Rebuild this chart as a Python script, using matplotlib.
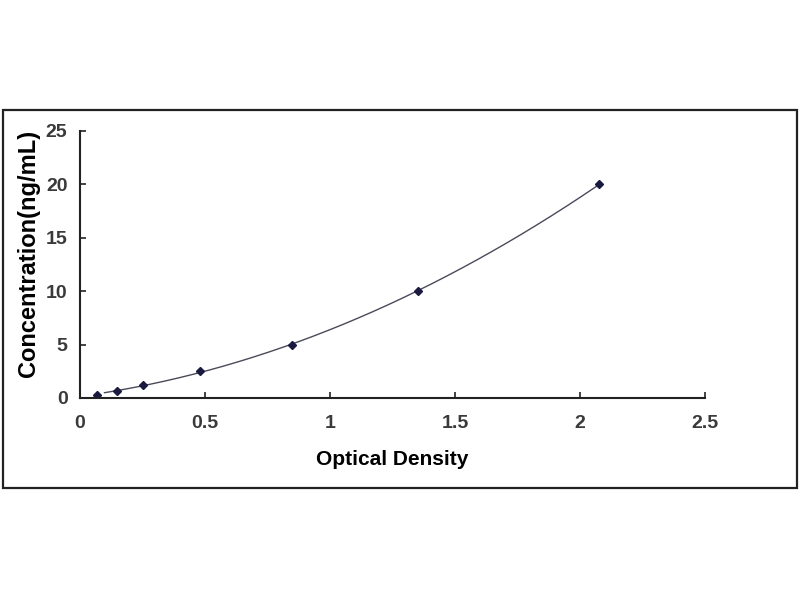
import numpy as np
import matplotlib
matplotlib.use("Agg")
import matplotlib.pyplot as plt
from matplotlib.patches import Rectangle

# standard curve points
od = [0.068, 0.148, 0.252, 0.48, 0.848, 1.352, 2.076]
conc = [0.31, 0.63, 1.25, 2.5, 5, 10, 20]
x_ticks = [0, 0.5, 1, 1.5, 2, 2.5]
x_tick_labels = ['0', '0.5', '1', '1.5', '2', '2.5']
y_ticks = [0, 5, 10, 15, 20, 25]

plt.rcParams['font.family'] = ['Liberation Sans', 'DejaVu Sans']

fig = plt.figure(figsize=(8, 6), dpi=100)
fig.patches.append(Rectangle((0.00375, 0.1867), 0.9925, 0.63, transform=fig.transFigure,
                             fill=False, edgecolor='#222222', linewidth=1.6))

ax = fig.add_axes([0.1, 0.3367, 0.78125, 0.445])

# trend line fitted to the points
coef = np.polyfit(od, conc, 2)
xs = np.linspace(od[0] + 0.03, od[-1], 200)
ax.plot(xs, np.polyval(coef, xs), color='#4a4a5a', linewidth=1.0)
ax.plot(od, conc, linestyle='none', marker='D', markersize=4,
        color='#1a1a40')

ax.set_xlim(0, 2.5)
ax.set_ylim(0, 25)
ax.set_xticks(x_ticks)
ax.set_xticklabels(x_tick_labels)
ax.set_yticks(y_ticks)
ax.spines['top'].set_visible(False)
ax.spines['right'].set_visible(False)
for s in ['left', 'bottom']:
    ax.spines[s].set_linewidth(1.5)
    ax.spines[s].set_color('#222222')
ax.tick_params(axis='both', direction='in', length=4, width=1.2, colors='#222222',
               labelsize=14, labelcolor='#3a3a3a')
ax.tick_params(axis='x', pad=12)
ax.tick_params(axis='y', pad=9)
for lbl in ax.get_xticklabels() + ax.get_yticklabels():
    lbl.set_fontweight('bold')

ax.set_xlabel('Optical Density', fontsize=15, fontweight='bold', labelpad=13)
ax.set_ylabel('Concentration(ng/mL)', fontsize=17, fontweight='bold', labelpad=4)
ax.yaxis.label.set_y(0.54)

fig.savefig('out.png', dpi=100)
